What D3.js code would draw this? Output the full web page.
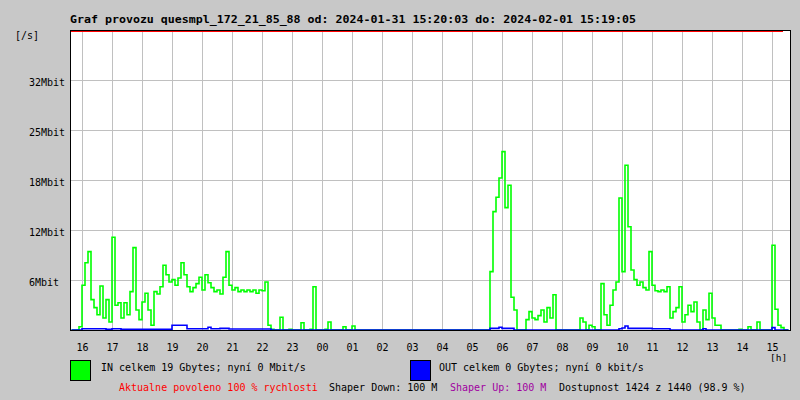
<!DOCTYPE html>
<html><head><meta charset="utf-8">
<script src="https://cdn.jsdelivr.net/npm/d3@7"></script>
<style>
html,body{margin:0;padding:0;background:#c8c8c8;}
svg{display:block;}
text{font-family:"DejaVu Sans Mono",monospace;font-size:10px;fill:#000;}
</style></head>
<body>
<svg id="c" width="800" height="400"></svg>
<script>
// ---- data (Mbit/s), one sample per 6 minutes, starting 15:20 ----
const sampleMinutes = 6;
const inValues = [
0,0,0,0.4,5.6,8.4,9.8,3.8,2.8,1.9,
5.5,1.5,3.8,1.0,11.6,3.1,3.4,1.5,3.4,1.9,
4.8,10.3,2.5,1.3,3.5,4.6,2.5,0.6,4.8,4.5,
5.4,8.1,6.9,6.0,6.3,5.6,6.5,8.4,6.9,5.4,
4.8,5.3,5.8,6.6,5.0,6.9,5.9,5.3,4.8,5.0,
4.5,6.6,9.8,5.6,5.0,5.3,4.8,5.0,4.8,5.0,
4.8,5.0,4.6,5.0,4.9,6.0,0.6,0.1,0,0,
1.6,0,0,0.1,0,0,0,0.9,0,0,
0.1,5.4,0,0,0,0.1,1.0,0,0,0,
0,0.4,0,0,0.5,0,0,0,0,0,
0,0,0,0,0,0,0,0,0,0,
0,0,0,0,0,0,0,0,0,0,
0,0,0,0,0,0,0,0,0,0,
0,0,0,0,0,0,0,0,0,0,
7.3,14.8,16.6,19.0,22.3,15.3,18.1,4.1,2.5,0,
0,0,1.3,2.3,1.5,1.3,1.8,2.5,1.0,2.8,
1.5,4.4,0,0,0,0,0,0,0,0,
1.5,1.0,0,0.6,0.4,0,0,5.8,1.9,0.6,
3.1,5.0,6.0,16.5,7.3,20.6,12.9,7.5,6.3,5.6,
6.0,5.3,5.0,9.8,5.6,4.9,4.8,5.0,4.8,5.4,
1.5,2.3,2.8,5.4,1.0,1.9,3.1,2.3,3.5,1.0,
0,2.5,1.3,4.6,1.5,0.6,0.6,0,0,0,
0,0,0,0.1,0,0,0.4,0,0,1.0,
0,0,0,0,10.6,2.6,0.6,0.3,0,0
];
const outValues = [
0,0,0,0,0.15,0.15,0.15,0.15,0.15,0.15,
0.15,0.15,0.1,0.1,0.15,0.15,0.15,0.1,0.1,0.1,
0.1,0.1,0.1,0.1,0.1,0.1,0.1,0.1,0.1,0.1,
0.1,0.1,0.1,0.1,0.6,0.6,0.6,0.6,0.6,0.15,
0.15,0.15,0.15,0.15,0.15,0.15,0.35,0.15,0.15,0.15,
0.2,0.2,0.2,0.12,0.12,0.12,0.12,0.12,0.12,0.12,
0.12,0.12,0.12,0.12,0.12,0.12,0.12,0,0,0,
0,0,0,0,0,0,0,0,0,0,
0,0,0,0,0,0,0,0,0,0,
0,0,0,0,0,0,0,0,0,0,
0,0,0,0,0,0,0,0,0,0,
0,0,0,0,0,0,0,0,0,0,
0,0,0,0,0,0,0,0,0,0,
0,0,0,0,0,0,0,0,0,0,
0.2,0.2,0.2,0.35,0.2,0.2,0.2,0.2,0,0,
0,0,0,0,0,0,0,0,0,0,
0,0,0,0,0,0,0,0,0,0,
0,0,0,0,0,0,0,0,0,0,
0,0,0,0.15,0.25,0.5,0.2,0.2,0.2,0.2,
0.2,0.2,0.2,0.2,0.15,0.15,0.15,0.15,0.15,0.15,
0,0,0,0,0,0,0,0,0,0,
0,0.15,0,0,0,0,0,0,0,0,
0,0,0,0,0,0,0,0,0,0,
0,0,0,0,0.3,0,0,0,0,0
];
const yTickValues = [6.25, 12.5, 18.75, 25, 31.25];
const yTickLabels = ["6Mbit","12Mbit","18Mbit","25Mbit","32Mbit"];
const yMax = 37.5;
const hourLabels = ["16","17","18","19","20","21","22","23","00","01","02","03","04","05","06","07","08","09","10","11","12","13","14","15"];
const hourTickMinutes = hourLabels.map((_, k) => 24 + 60 * k);
const totalMinutes = 1440;

const titleText = "Graf provozu quesmpl_172_21_85_88 od: 2024-01-31 15:20:03 do: 2024-02-01 15:19:05";
const inLegend = "IN celkem 19 Gbytes; nyní 0 Mbit/s";
const outLegend = "OUT celkem 0 Gbytes; nyní 0 kbit/s";

// ---- layout ----
const L = 70, R = 790, T = 30, B = 330;
const svg = d3.select("#c");
svg.append("rect").attr("width",800).attr("height",400).attr("fill","#c8c8c8");

const x = d3.scaleLinear().domain([0,totalMinutes]).range([L,R]);
const y = d3.scaleLinear().domain([0,yMax]).range([B,T]);

svg.append("rect").attr("x",L).attr("y",T).attr("width",R-L).attr("height",B-T).attr("fill","#fff");

// grid
const grid = svg.append("g").attr("stroke","#c0c0c0").attr("stroke-width",1).attr("shape-rendering","crispEdges");
hourTickMinutes.forEach(m => {
  const xx = Math.round(x(m)) + 0.5;
  grid.append("line").attr("x1",xx).attr("x2",xx).attr("y1",T).attr("y2",B);
});
yTickValues.forEach(v => {
  const yy = Math.round(y(v)) + 0.5;
  grid.append("line").attr("x1",L).attr("x2",R).attr("y1",yy).attr("y2",yy);
});

// red limit line on top
svg.append("line").attr("x1",L+1).attr("x2",783).attr("y1",31.5).attr("y2",31.5)
  .attr("stroke","#ff0000").attr("stroke-width",1).attr("shape-rendering","crispEdges");

// series
const mk = vals => vals.map((v,i)=>({t:(i+0.5)*sampleMinutes, v}));
const line = d3.line().x(d=>x(d.t)).y(d=>y(d.v)).curve(d3.curveStep);
svg.append("path").datum(mk(inValues)).attr("d",line).attr("fill","none")
  .attr("stroke","#00ff00").attr("stroke-width",1.6);
svg.append("path").datum(mk(outValues)).attr("d",line).attr("fill","none")
  .attr("stroke","#0000ff").attr("stroke-width",1.6);

// frame
svg.append("rect").attr("x",L+0.5).attr("y",T+0.5).attr("width",R-L).attr("height",B-T)
  .attr("fill","none").attr("stroke","#000").attr("stroke-width",1).attr("shape-rendering","crispEdges");

// y labels
yTickValues.forEach((v,i)=>{
  svg.append("text").attr("x",29).attr("y",y(v)+5.5).text(yTickLabels[i]);
});
svg.append("text").attr("x",15).attr("y",39).text("[/s]");

// x labels
hourTickMinutes.forEach((m,i)=>{
  svg.append("text").attr("x",Math.round(x(m))+0.5).attr("y",350.5).attr("text-anchor","middle").text(hourLabels[i]);
});
svg.append("text").attr("x",770).attr("y",360.5).style("font-size","9.5px").text("[h]");

// title
svg.append("text").attr("x",70).attr("y",22.5).attr("font-weight","bold")
  .style("font-size","11px").attr("textLength",566).attr("lengthAdjust","spacingAndGlyphs").text(titleText);

// legend
svg.append("rect").attr("x",70.5).attr("y",360.5).attr("width",20).attr("height",20)
  .attr("fill","#00ff00").attr("stroke","#000");
svg.append("text").attr("x",101).attr("y",371).text(inLegend);
svg.append("rect").attr("x",410.5).attr("y",360.5).attr("width",20).attr("height",20)
  .attr("fill","#0000ff").attr("stroke","#000");
svg.append("text").attr("x",439).attr("y",371).text(outLegend);

// bottom status
svg.append("text").attr("x",119).attr("y",391).style("fill","#ff0000").text("Aktualne povoleno 100 % rychlosti");
svg.append("text").attr("x",329).attr("y",391).text("Shaper Down: 100 M");
svg.append("text").attr("x",450).attr("y",391).style("fill","#a000a0").text("Shaper Up: 100 M");
svg.append("text").attr("x",559).attr("y",391).text("Dostupnost 1424 z 1440 (98.9 %)");
</script>
</body></html>
